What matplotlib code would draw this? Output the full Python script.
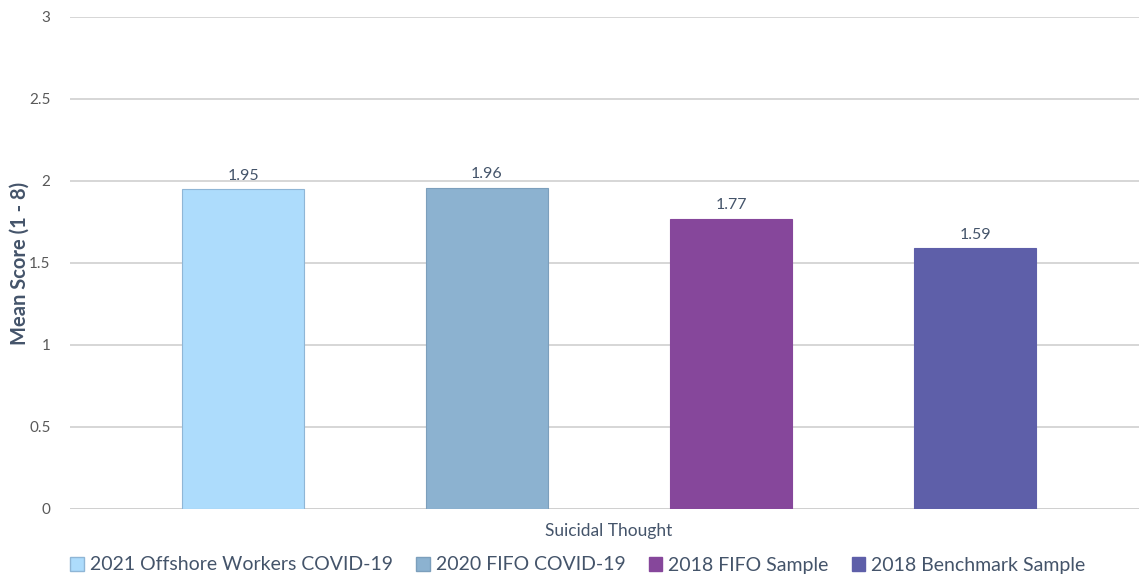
import matplotlib
matplotlib.use("Agg")
import matplotlib.pyplot as plt
from matplotlib.patches import Patch

series = ["2021 Offshore Workers COVID-19", "2020 FIFO COVID-19", "2018 FIFO Sample", "2018 Benchmark Sample"]
values = [1.95, 1.96, 1.77, 1.59]
category = "Suicidal Thought"
colors = ["#ADDCFC", "#8CB2D0", "#86479B", "#5E5FA9"]
edges = ["#8FB6D6", "#7C9FBC", "#86479B", "#5E5FA9"]
yticks = [0, 0.5, 1, 1.5, 2, 2.5, 3]

plt.rcParams['font.family'] = ['Lato', 'DejaVu Sans']
txt = "#44546A"

fig = plt.figure(figsize=(11.39, 5.77), dpi=100)
ax = fig.add_axes([70/1139, 1-509/577, 1069/1139, (509-17)/577])

for i, (v, c, e) in enumerate(zip(values, colors, edges)):
    x = i - 1.5
    ax.bar(x, v, width=0.5, color=c, edgecolor=e, linewidth=0.8, zorder=3)
    ax.text(x, v + 0.04, f"{v:.2f}", ha="center", va="bottom", fontsize=11.5, color=txt, zorder=4)

ax.set_xlim(-2.209, 2.172)
ax.set_ylim(0, 3)
ax.set_yticks(yticks)
ax.set_yticklabels([f"{t:g}" for t in yticks], fontsize=11, color="#595959")
ax.yaxis.grid(True, color="#D0D0D0", linewidth=1.2, zorder=0)
ax.axhline(0, color="#D0D0D0", linewidth=2, zorder=2)
ax.tick_params(axis="y", length=0, pad=14)
ax.set_xticks([])
for s in ax.spines.values():
    s.set_visible(False)

ax.set_ylabel("Mean Score (1 - 8)", fontsize=14.5, color=txt, fontweight="bold")
ax.yaxis.set_label_coords(-40/1069, 0.5)

fig.text(609/1139, 1-531/577, category, ha="center", va="center", fontsize=12.5, color=txt)

handles = [Patch(facecolor=c, edgecolor=e) for c, e in zip(colors, edges)]
fig.legend(handles, series, loc="center", bbox_to_anchor=(578/1139, 1-565/577), ncol=4,
           frameon=False, fontsize=14, labelcolor=txt, handlelength=0.7, handleheight=0.7,
           handletextpad=0.3, columnspacing=1.2)

fig.savefig("out.png", dpi=100)
